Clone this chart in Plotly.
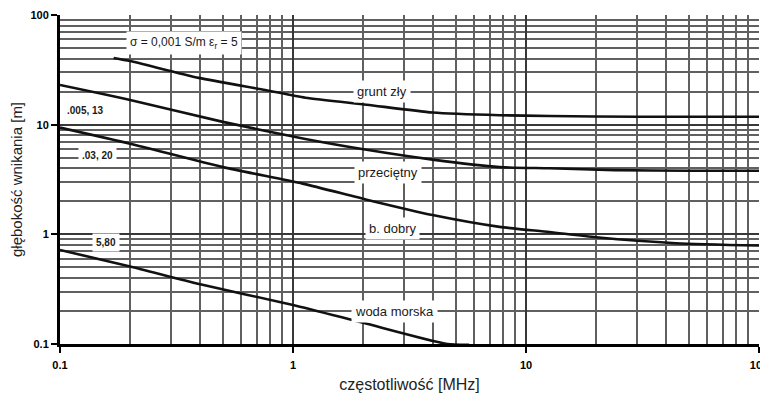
import plotly.graph_objects as go

# ---- data ----
f_zly = [0.17, 0.2, 0.394, 0.76, 1.13, 2.07, 3.97, 7.7, 12.6, 30, 100]
d_zly = [40.6, 38, 26.7, 20.7, 17.6, 15.2, 12.9, 12.2, 12.0, 11.8, 11.8]

f_prz = [0.1, 0.2, 0.5, 1.13, 2.07, 3.97, 7.7, 12.6, 24, 50, 100]
d_prz = [23, 16.8, 10.6, 7.4, 5.9, 4.8, 4.1, 4.0, 3.85, 3.8, 3.8]

f_dob = [0.1, 0.2, 0.5, 1.1, 2.07, 3.97, 7.7, 12.6, 20, 44, 100]
d_dob = [9.4, 6.7, 4.1, 2.9, 2.07, 1.5, 1.17, 1.05, 0.94, 0.83, 0.79]

f_woda = [0.1, 0.2, 0.4, 1.0, 2.0, 4.6, 5.7]
d_woda = [0.72, 0.51, 0.35, 0.227, 0.156, 0.1, 0.0985]

major_vals = [0.1, 1, 10, 100]
major_text = ["0.1", "1", "10", "100"]
minor_vals = [m * 10 ** e for e in (-1, 0, 1) for m in range(2, 10)]

FONT = "Liberation Sans, Arial, sans-serif"

fig = go.Figure()
for fx, dy in [(f_zly, d_zly), (f_prz, d_prz), (f_dob, d_dob), (f_woda, d_woda)]:
    fig.add_trace(go.Scatter(x=fx, y=dy, mode="lines",
                             line=dict(color="#111", width=2.6, shape="spline", smoothing=0.6),
                             showlegend=False, hoverinfo="skip"))

axis_common = dict(
    type="log", range=[-1, 2], automargin=False,
    tickmode="array", tickvals=major_vals, ticktext=major_text,
    ticks="outside", ticklen=6, tickwidth=2, tickcolor="#000",
    tickfont=dict(family=FONT, size=11, color="#000", weight="bold"),
    ticklabeloverflow="allow",
    showgrid=True, gridcolor="#383838", gridwidth=1.8,
    showline=True, linecolor="#000", linewidth=3,
    zeroline=False,
    minor=dict(tickmode="array", tickvals=minor_vals, showgrid=True,
               gridcolor="#606060", gridwidth=1.5, ticks=""),
)

fig.update_xaxes(**axis_common, ticklabelstandoff=3,
                 title=dict(text="częstotliwość [MHz]",
                            font=dict(family=FONT, size=16, color="#222")))
fig.update_yaxes(**axis_common,
                 title=dict(text="głębokość wnikania [m]",
                            font=dict(family=FONT, size=15, color="#222")))

# white panel behind the sigma label (hides grid only)
fig.add_shape(type="rect", xref="paper", yref="paper",
              x0=0.004, x1=0.35, y0=0.869, y1=0.985,
              fillcolor="white", line=dict(width=0), layer="between")

labels = [
    ("σ = 0,001 S/m ε<sub>r</sub> = 5", 0.178, 0.915, 12, "normal"),
    ("grunt zły", 0.461, 0.766, 13, "normal"),
    ("przeciętny", 0.469, 0.520, 13, "normal"),
    ("b. dobry", 0.476, 0.350, 13, "normal"),
    ("woda morska", 0.479, 0.100, 13, "normal"),
    (".005, 13", 0.037, 0.711, 10, "bold"),
    (".03, 20", 0.053, 0.574, 10, "bold"),
    ("5,80", 0.066, 0.307, 10, "bold"),
]
for txt, x, y, size, w in labels:
    fig.add_annotation(text=txt, xref="paper", yref="paper", x=x, y=y,
                       xanchor="center", yanchor="middle",
                       showarrow=False, bgcolor="white", borderpad=3,
                       font=dict(family=FONT, size=size, color="#1a1a1a", weight=w))

# page body adds an 8px offset; size the figure so the plot lands where the reference has it
fig.update_layout(
    width=760, height=385,
    margin=dict(l=52, r=9, t=7, b=49),
    paper_bgcolor="white", plot_bgcolor="white",
)

fig.write_html("out.html")
